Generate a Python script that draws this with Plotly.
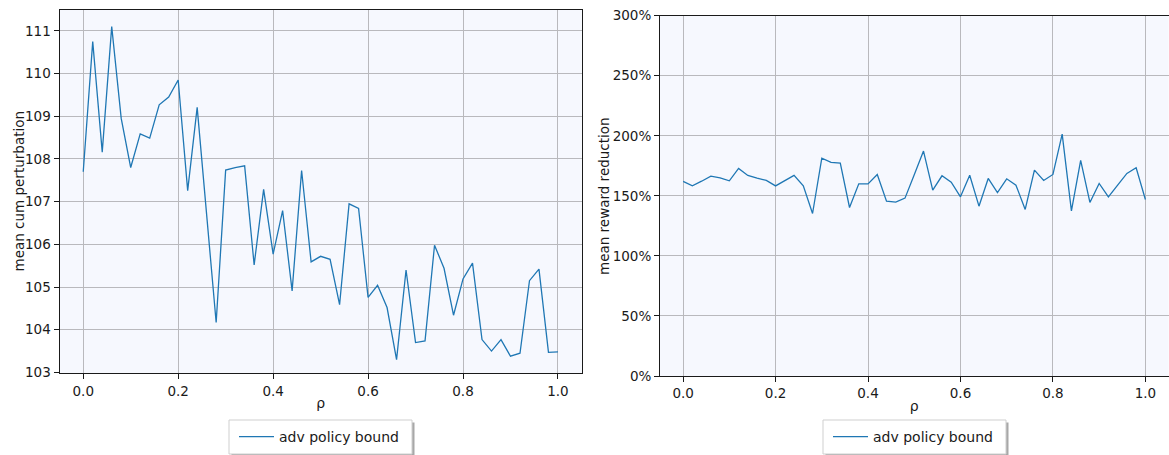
import plotly.graph_objects as go

rho = [round(i * 0.02, 2) for i in range(51)]

cum_perturbation = [
    107.70, 110.75, 108.16, 111.10, 108.95, 107.80, 108.59, 108.49, 109.27, 109.45,
    109.85, 107.26, 109.21, 106.70, 104.17, 107.74, 107.80, 107.84, 105.52, 107.29,
    105.77, 106.79, 104.91, 107.73, 105.59, 105.72, 105.65, 104.59, 106.95, 106.84,
    104.76, 105.04, 104.52, 103.30, 105.40, 103.70, 103.74, 105.98, 105.44, 104.34,
    105.19, 105.56, 103.77, 103.50, 103.77, 103.38, 103.45, 105.15, 105.42, 103.47,
    103.48,
]

reward_reduction = [
    162.0, 158.3, 162.2, 166.4, 165.0, 162.5, 172.8, 167.0, 164.8, 162.8,
    158.3, 162.8, 167.0, 158.3, 135.3, 181.4, 177.8, 177.3, 140.3, 160.0,
    160.0, 167.8, 145.6, 144.8, 148.1, 167.5, 187.3, 154.8, 166.7, 161.4,
    149.2, 167.2, 141.4, 164.5, 152.8, 164.2, 158.9, 138.7, 171.4, 162.8,
    167.8, 201.4, 137.5, 179.5, 144.5, 160.3, 149.2, 159.0, 168.7, 173.4,
    147.0,
]

series_name = "adv policy bound"
left_ylabel = "mean cum perturbation"
right_ylabel = "mean reward reduction"
x_label = "ρ"

W, H = 1169, 455
FONT = "DejaVu Sans, Verdana, sans-serif"
LINE_COLOR = "#1f77b4"
BG = "#f6f8fe"
GRID = "#b9b9bd"
TXT = "#1a1a1a"


def px_x(p):
    return p / W


def px_y(p):
    return 1 - p / H


fig = go.Figure()
fig.add_trace(go.Scatter(x=rho, y=cum_perturbation, mode="lines", name=series_name,
                         line=dict(color=LINE_COLOR, width=1.3),
                         xaxis="x", yaxis="y", legend="legend", showlegend=True))
fig.add_trace(go.Scatter(x=rho, y=reward_reduction, mode="lines", name=series_name,
                         line=dict(color=LINE_COLOR, width=1.3),
                         xaxis="x2", yaxis="y2", legend="legend2", showlegend=True))

axis_common = dict(
    showline=True, linecolor=TXT, linewidth=1, mirror=True,
    ticks="outside", ticklen=5, tickcolor=TXT, tickwidth=1,
    showgrid=True, gridcolor=GRID, gridwidth=1, zeroline=False,
    automargin=False,
    tickfont=dict(family=FONT, size=13.5, color=TXT),
)

xticks = [0.0, 0.2, 0.4, 0.6, 0.8, 1.0]
xlabels = ["0.0", "0.2", "0.4", "0.6", "0.8", "1.0"]

# legend frames (box + shadow) drawn as paper shapes; legend entries are the plotly legends
legend_boxes = [(229, 412), (823, 1006)]
shapes = []
for (l, r) in legend_boxes:
    shapes.append(dict(type="rect", xref="paper", yref="paper",
                       x0=px_x(l + 2.5), x1=px_x(r + 2.5), y0=px_y(456.5), y1=px_y(422.5),
                       fillcolor="#a8a8a8", line=dict(width=0), layer="above"))
    shapes.append(dict(type="rect", xref="paper", yref="paper",
                       x0=px_x(l), x1=px_x(r), y0=px_y(454), y1=px_y(420),
                       fillcolor="white", line=dict(color="#cfcfcf", width=1), layer="above"))

annotations = [
    dict(text=left_ylabel, xref="paper", yref="paper", x=px_x(18), y=px_y(191.5),
         xanchor="center", yanchor="middle", textangle=-90, showarrow=False,
         font=dict(family=FONT, size=13.5, color=TXT)),
    dict(text=right_ylabel, xref="paper", yref="paper", x=px_x(604), y=px_y(196),
         xanchor="center", yanchor="middle", textangle=-90, showarrow=False,
         font=dict(family=FONT, size=13.5, color=TXT)),
]

fig.update_layout(
    width=W, height=H,
    margin=dict(l=0, r=0, t=0, b=0, autoexpand=False),
    paper_bgcolor="white",
    plot_bgcolor=BG,
    showlegend=True,
    font=dict(family=FONT, size=13.5, color=TXT),
    shapes=shapes,
    annotations=annotations,
    xaxis=dict(domain=[px_x(59.5), px_x(581.7)], anchor="y", range=[-0.05, 1.05],
               tickvals=xticks, ticktext=xlabels,
               title=dict(text=x_label, font=dict(family=FONT, size=14), standoff=0),
               **axis_common),
    yaxis=dict(domain=[px_y(373.3), px_y(10)], anchor="x", range=[102.98, 111.49],
               tickvals=[103, 104, 105, 106, 107, 108, 109, 110, 111],
               **axis_common),
    xaxis2=dict(domain=[px_x(660), px_x(1168.5)], anchor="y2", range=[-0.05, 1.05],
                tickvals=xticks, ticktext=xlabels,
                title=dict(text=x_label, font=dict(family=FONT, size=14), standoff=0),
                **axis_common),
    yaxis2=dict(domain=[px_y(376), px_y(15.7)], anchor="x2", range=[0, 300],
                tickvals=[0, 50, 100, 150, 200, 250, 300],
                ticktext=["0%", "50%", "100%", "150%", "200%", "250%", "300%"],
                **axis_common),
    legend=dict(x=px_x(234), y=px_y(437), xanchor="left", yanchor="middle",
                bgcolor="rgba(0,0,0,0)", borderwidth=0, itemwidth=35,
                font=dict(family=FONT, size=14, color=TXT)),
    legend2=dict(x=px_x(828), y=px_y(437), xanchor="left", yanchor="middle",
                 bgcolor="rgba(0,0,0,0)", borderwidth=0, itemwidth=35,
                 font=dict(family=FONT, size=14, color=TXT)),
)

fig.write_html("out.html")
